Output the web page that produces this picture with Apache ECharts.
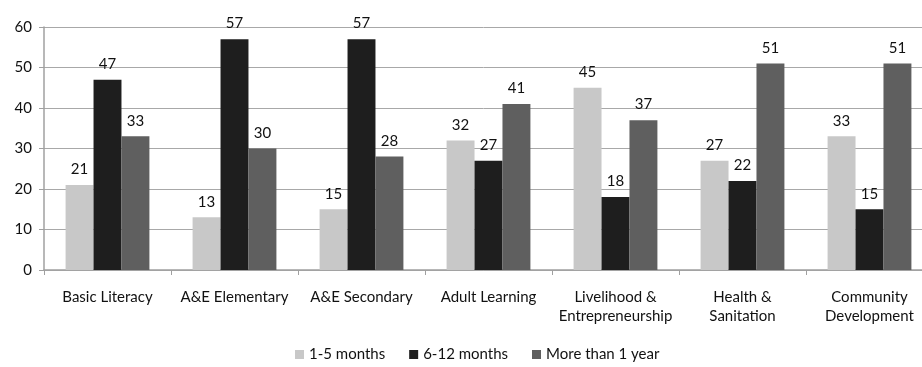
<!DOCTYPE html>
<html>
<head>
<meta charset="utf-8">
<script src="https://cdn.jsdelivr.net/npm/echarts@6/dist/echarts.min.js"></script>
<style>
  html, body { margin: 0; padding: 0; background: #ffffff; }
  #chart { width: 922px; height: 367px; }
</style>
</head>
<body>
<div id="chart"></div>
<script>
// Programme categories (two-line labels use \n)
const categories = [
  'Basic Literacy',
  'A&E Elementary',
  'A&E Secondary',
  'Adult Learning',
  'Livelihood &\nEntrepreneurship',
  'Health &\nSanitation',
  'Community\nDevelopment'
];

const seriesNames = ['1-5 months', '6-12 months', 'More than 1 year'];
const months1to5 = [21, 13, 15, 32, 45, 27, 33];
const months6to12 = [47, 57, 57, 27, 18, 22, 15];
const moreThan1Year = [33, 30, 28, 41, 37, 51, 51];
const yTicks = [0, 10, 20, 30, 40, 50, 60];

const colors = ['#c8c8c8', '#1e1e1e', '#5f5f5f'];
const font = 'Lato, "Open Sans", sans-serif';

const chart = echarts.init(document.getElementById('chart'), null, { renderer: 'canvas' });

const makeSeries = (name, data, color) => ({
  name: name,
  type: 'bar',
  data: data,
  barGap: '0%',
  barCategoryGap: '34%',
  itemStyle: { color: color },
  label: {
    show: true,
    position: 'top',
    distance: 8,
    color: '#111',
    fontFamily: font,
    fontSize: 15
  }
});

chart.setOption({
  animation: false,
  color: colors,
  // plot area runs slightly past the right edge of the canvas
  grid: { left: 44, width: 889, top: 27, height: 243, outerBoundsMode: 'none', containLabel: false },
  legend: {
    bottom: 0,
    left: 290,
    itemWidth: 9,
    itemHeight: 9,
    itemGap: 24,
    icon: 'rect',
    textStyle: { fontFamily: font, fontSize: 15, color: '#111' },
    data: seriesNames
  },
  xAxis: {
    type: 'category',
    data: categories,
    axisLine: { lineStyle: { color: '#a0a0a0', width: 1.5 } },
    axisTick: { show: true, length: 5, lineStyle: { color: '#a0a0a0' } },
    axisLabel: {
      color: '#111',
      fontFamily: font,
      fontSize: 15,
      margin: 18,
      lineHeight: 19,
      interval: 0
    }
  },
  yAxis: {
    type: 'value',
    min: yTicks[0],
    max: yTicks[yTicks.length - 1],
    interval: 10,
    axisLine: { show: true, lineStyle: { color: '#a0a0a0', width: 1.5 } },
    axisTick: { show: true, length: 5, lineStyle: { color: '#a0a0a0' } },
    splitLine: { lineStyle: { color: '#a8a8a8', width: 1 } },
    axisLabel: {
      color: '#111',
      fontFamily: font,
      fontSize: 15,
      margin: 12
    }
  },
  series: [
    makeSeries(seriesNames[0], months1to5, colors[0]),
    makeSeries(seriesNames[1], months6to12, colors[1]),
    makeSeries(seriesNames[2], moreThan1Year, colors[2])
  ]
});
</script>
</body>
</html>
